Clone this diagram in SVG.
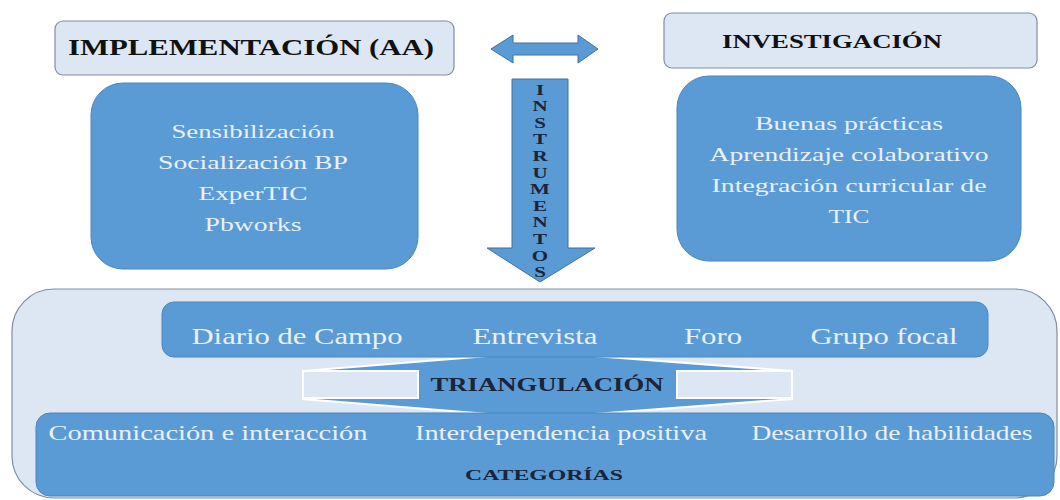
<svg xmlns="http://www.w3.org/2000/svg" width="1060" height="500" viewBox="0 0 1060 500" font-family="'Liberation Serif','DejaVu Serif',serif">
<style>
.light{fill:#dde7f3;stroke:#7f8fa3;stroke-width:1.2}
.blue{fill:#5b9bd5;stroke:#4a86bf;stroke-width:1}
.arrow{fill:#5b9bd5;stroke:#41719c;stroke-width:1}
.wt{font-family:'Liberation Serif','DejaVu Serif',serif;fill:#eaf0f8;text-anchor:middle}
.bt{font-family:'Liberation Serif','DejaVu Serif',serif;font-weight:bold;fill:#111;text-anchor:middle}
.dk{font-family:'Liberation Serif','DejaVu Serif',serif;font-weight:bold;fill:#1b2438;text-anchor:middle}
</style>
<rect width="1060" height="500" fill="#ffffff"/>

<g id="implementacion">
<rect class="light" x="55" y="21" width="399" height="54" rx="8"/>
<text class="bt" x="251" y="55" font-size="23" textLength="366" lengthAdjust="spacingAndGlyphs">IMPLEMENTACIÓN (AA)</text>
</g>

<g id="implementacion-items">
<rect class="blue" x="91" y="83" width="327" height="186" rx="32"/>
<text class="wt" x="253" y="138" font-size="19" textLength="163" lengthAdjust="spacingAndGlyphs">Sensibilización</text>
<text class="wt" x="253" y="169" font-size="19" textLength="190" lengthAdjust="spacingAndGlyphs">Socialización  BP</text>
<text class="wt" x="253" y="200" font-size="19" textLength="109" lengthAdjust="spacingAndGlyphs">ExperTIC</text>
<text class="wt" x="253" y="231" font-size="19" textLength="97" lengthAdjust="spacingAndGlyphs">Pbworks</text>
</g>

<g id="investigacion">
<rect class="light" x="664" y="13" width="373" height="55" rx="8"/>
<text class="bt" x="832" y="48" font-size="19" textLength="220" lengthAdjust="spacingAndGlyphs">INVESTIGACIÓN</text>
</g>

<g id="investigacion-items">
<rect class="blue" x="677" y="76" width="344" height="185" rx="32"/>
<text class="wt" x="849" y="130" font-size="19" textLength="188" lengthAdjust="spacingAndGlyphs">Buenas prácticas</text>
<text class="wt" x="849" y="161" font-size="19" textLength="279" lengthAdjust="spacingAndGlyphs">Aprendizaje colaborativo</text>
<text class="wt" x="849" y="192" font-size="19" textLength="275" lengthAdjust="spacingAndGlyphs">Integración curricular de</text>
<text class="wt" x="849" y="223" font-size="19" textLength="41" lengthAdjust="spacingAndGlyphs">TIC</text>
</g>

<g id="connectors">
<polygon class="arrow" points="491,49 513,35 513,43 578,43 578,35 598,49 578,63 578,55 513,55 513,63"/>
<polygon class="arrow" points="512,79 568,79 568,248 595,248 540,282 487,248 512,248"/>
<g class="dk" font-size="14" transform="translate(540,0) scale(1.5,1)">
<text x="0" y="95">I</text>
<text x="0" y="111">N</text>
<text x="0" y="128">S</text>
<text x="0" y="144">T</text>
<text x="0" y="161">R</text>
<text x="0" y="178">U</text>
<text x="0" y="194">M</text>
<text x="0" y="211">E</text>
<text x="0" y="227">N</text>
<text x="0" y="244">T</text>
<text x="0" y="261">O</text>
<text x="0" y="277">S</text>
</g>
</g>

<g id="contenedor">
<rect class="light" x="12" y="289" width="1045" height="209" rx="42"/>
</g>

<g id="triangulacion">
<polygon points="303,371 525,353 555,353 792,371 792,399 555,417 525,417 303,399" fill="#5b9bd5" stroke="#ffffff" stroke-width="2"/>
<rect x="303" y="371" width="115" height="27" fill="#dde7f3" stroke="#ffffff" stroke-width="2"/>
<rect x="677" y="371" width="115" height="27" fill="#dde7f3" stroke="#ffffff" stroke-width="2"/>
<text class="dk" x="547" y="391" font-size="19" textLength="233" lengthAdjust="spacingAndGlyphs">TRIANGULACIÓN</text>
</g>

<g id="instrumentos">
<rect class="blue" x="162" y="302" width="826" height="55" rx="12"/>
<text class="wt" x="297" y="344" font-size="23" textLength="211" lengthAdjust="spacingAndGlyphs">Diario de Campo</text>
<text class="wt" x="535" y="344" font-size="23" textLength="125" lengthAdjust="spacingAndGlyphs">Entrevista</text>
<text class="wt" x="713" y="344" font-size="23" textLength="58" lengthAdjust="spacingAndGlyphs">Foro</text>
<text class="wt" x="884" y="344" font-size="23" textLength="147" lengthAdjust="spacingAndGlyphs">Grupo focal</text>
</g>

<g id="categorias">
<rect class="blue" x="36" y="413" width="1018" height="83" rx="14"/>
<text class="wt" x="208" y="440" font-size="21" textLength="319" lengthAdjust="spacingAndGlyphs">Comunicación e interacción</text>
<text class="wt" x="561" y="440" font-size="21" textLength="292" lengthAdjust="spacingAndGlyphs">Interdependencia positiva</text>
<text class="wt" x="892" y="440" font-size="21" textLength="281" lengthAdjust="spacingAndGlyphs">Desarrollo de habilidades</text>
<text class="dk" x="544" y="480" font-size="15" textLength="158" lengthAdjust="spacingAndGlyphs">CATEGORÍAS</text>
</g>
</svg>
